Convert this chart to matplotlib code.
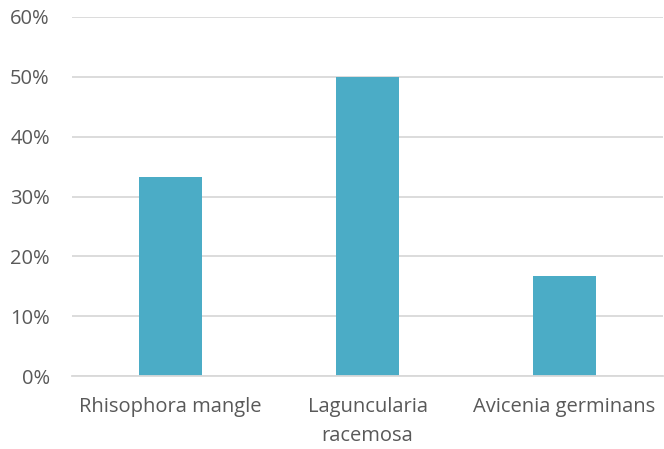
import matplotlib
matplotlib.use("Agg")
import matplotlib.pyplot as plt
from matplotlib.ticker import PercentFormatter

species = ["Rhisophora mangle", "Laguncularia\nracemosa", "Avicenia germinans"]
shares = [33.3, 50.0, 16.7]
y_ticks = [0, 10, 20, 30, 40, 50, 60]

plt.rcParams['font.family'] = ['Open Sans', 'DejaVu Sans']

fig = plt.figure(figsize=(6.64, 4.49), dpi=100)
ax = fig.add_axes([72/664, 1 - 376/449, (663 - 72)/664, (376 - 17)/449])

x = range(len(species))
ax.bar(x, shares, width=0.315, color="#4BACC6", zorder=3)

ax.set_xlim(-0.5, 2.5)
ax.set_ylim(0, 60)
ax.set_yticks(y_ticks)
ax.yaxis.set_major_formatter(PercentFormatter(decimals=0))
ax.set_xticks(list(x))
ax.set_xticklabels(species, linespacing=1.62)

ax.grid(axis="y", color="#D9D9D9", linewidth=1.3, zorder=0)
for side in ["top", "right", "left"]:
    ax.spines[side].set_visible(False)
ax.spines["bottom"].set_color("#D9D9D9")
ax.spines["bottom"].set_linewidth(1.3)
ax.spines["bottom"].set_zorder(4)

ax.tick_params(axis="both", length=0, labelsize=14.5, labelcolor="#595959")
ax.tick_params(axis="y", pad=16)
ax.tick_params(axis="x", pad=15)

fig.savefig("out.png", dpi=100)
